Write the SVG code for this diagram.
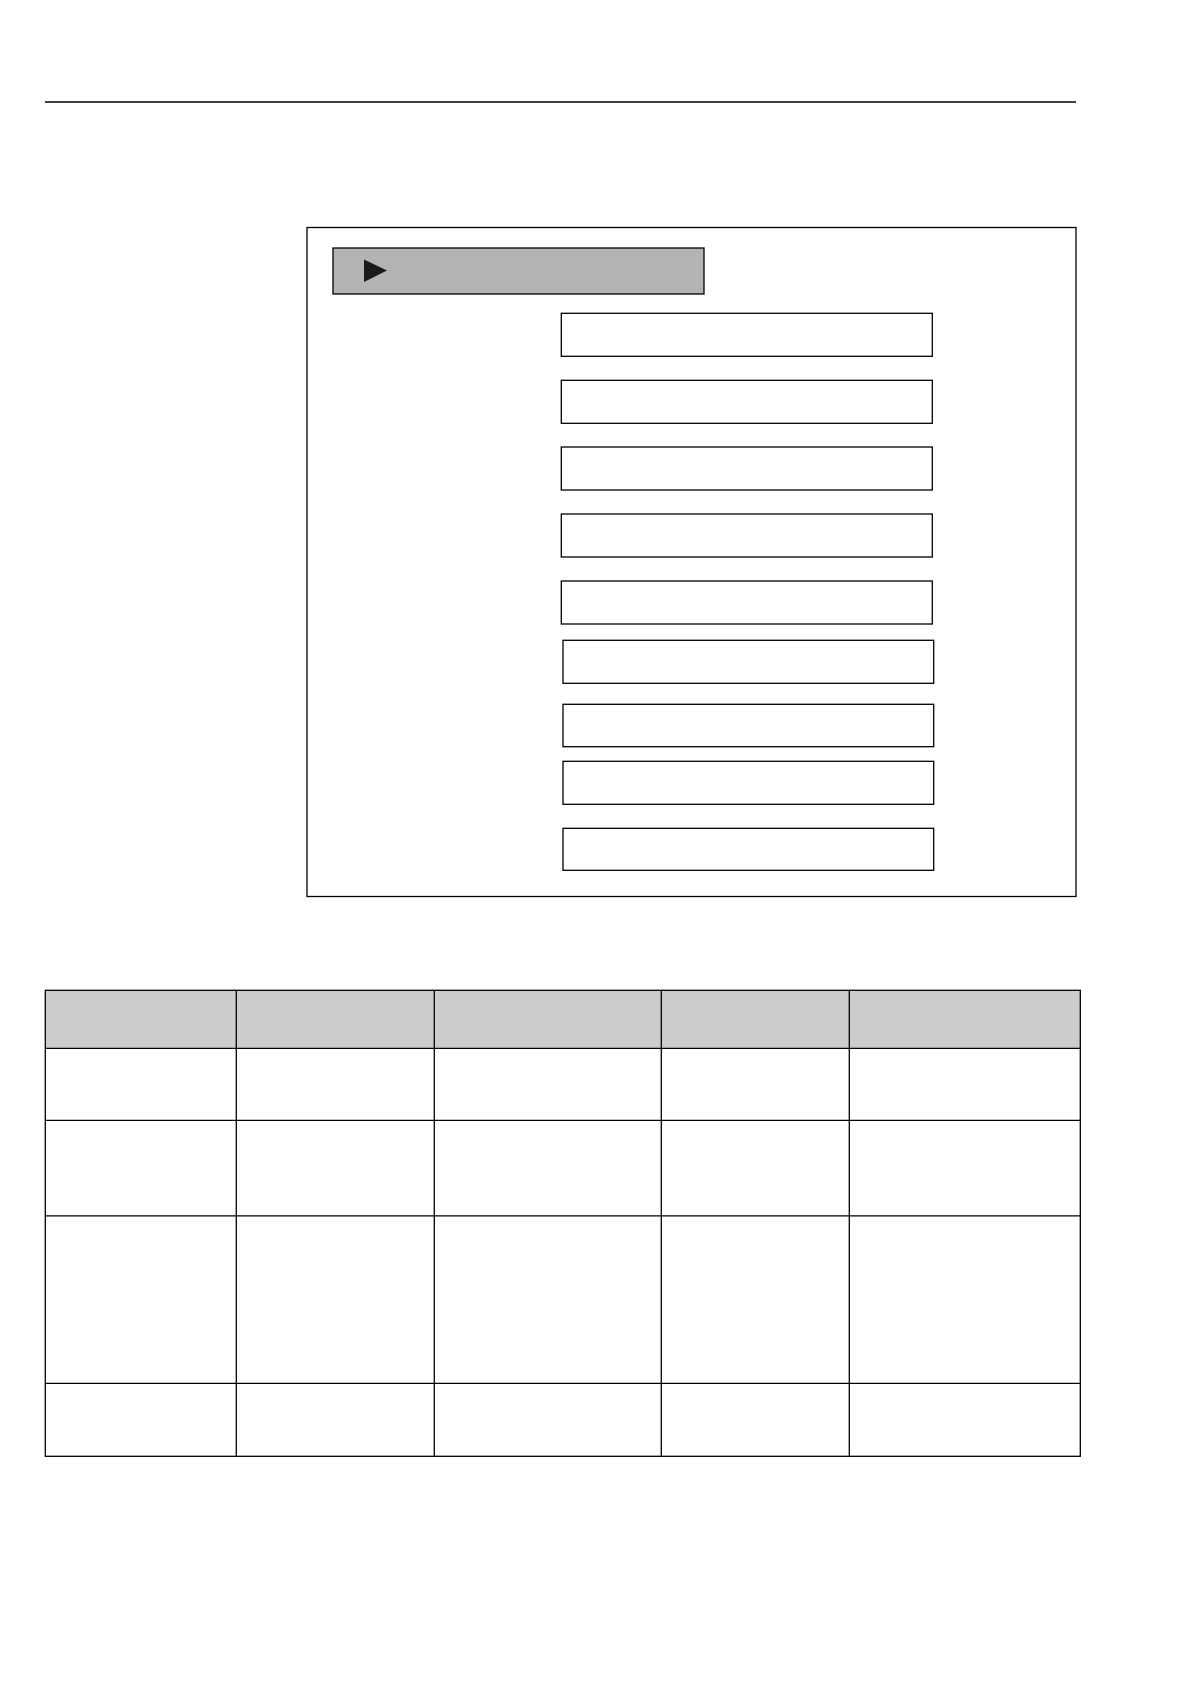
<svg xmlns="http://www.w3.org/2000/svg" width="1190" height="1684" viewBox="0 0 1190 1684">
<style>
.b{fill:#fff;stroke:#000;stroke-width:1.3}
.h{fill:#ccc;stroke:none}
.g{stroke:#000;stroke-width:1.3;fill:none}
</style>
<rect width="1190" height="1684" fill="#fff"/>
<line class="g" x1="45" y1="102" x2="1076" y2="102"/>
<g id="frame"><rect class="b" x="307" y="227.5" width="769" height="669"/></g>
<g id="title"><rect x="333" y="248" width="371" height="46" fill="#b3b3b3" stroke="#000" stroke-width="1.3"/>
<polygon points="364,259.5 387,270.5 364,282" fill="#1a1a1a"/></g>
<g id="n1"><rect class="b" x="561.3" y="313.3" width="371" height="43"/></g>
<g id="n2"><rect class="b" x="561.3" y="380.3" width="371" height="43"/></g>
<g id="n3"><rect class="b" x="561.3" y="447" width="371" height="43"/></g>
<g id="n4"><rect class="b" x="561.3" y="514" width="371" height="43"/></g>
<g id="n5"><rect class="b" x="561.3" y="581" width="371" height="43"/></g>
<g id="n6"><rect class="b" x="563" y="640.3" width="370.7" height="43"/></g>
<g id="n7"><rect class="b" x="563" y="704.3" width="370.7" height="42.4"/></g>
<g id="n8"><rect class="b" x="563" y="761.3" width="370.7" height="43"/></g>
<g id="n9"><rect class="b" x="563" y="828.3" width="370.7" height="42"/></g>
<g id="table">
<rect class="h" x="45.3" y="990.3" width="1035" height="58"/>
<rect class="g" x="45.3" y="990.3" width="1035" height="466"/>
<line class="g" x1="45.3" y1="1048.3" x2="1080.3" y2="1048.3"/>
<line class="g" x1="45.3" y1="1120.3" x2="1080.3" y2="1120.3"/>
<line class="g" x1="45.3" y1="1215.8" x2="1080.3" y2="1215.8"/>
<line class="g" x1="45.3" y1="1383.3" x2="1080.3" y2="1383.3"/>
<line class="g" x1="236.3" y1="990.3" x2="236.3" y2="1456.3"/>
<line class="g" x1="434.3" y1="990.3" x2="434.3" y2="1456.3"/>
<line class="g" x1="661.3" y1="990.3" x2="661.3" y2="1456.3"/>
<line class="g" x1="849.3" y1="990.3" x2="849.3" y2="1456.3"/>
</g>
<g id="connectors"></g>
</svg>
